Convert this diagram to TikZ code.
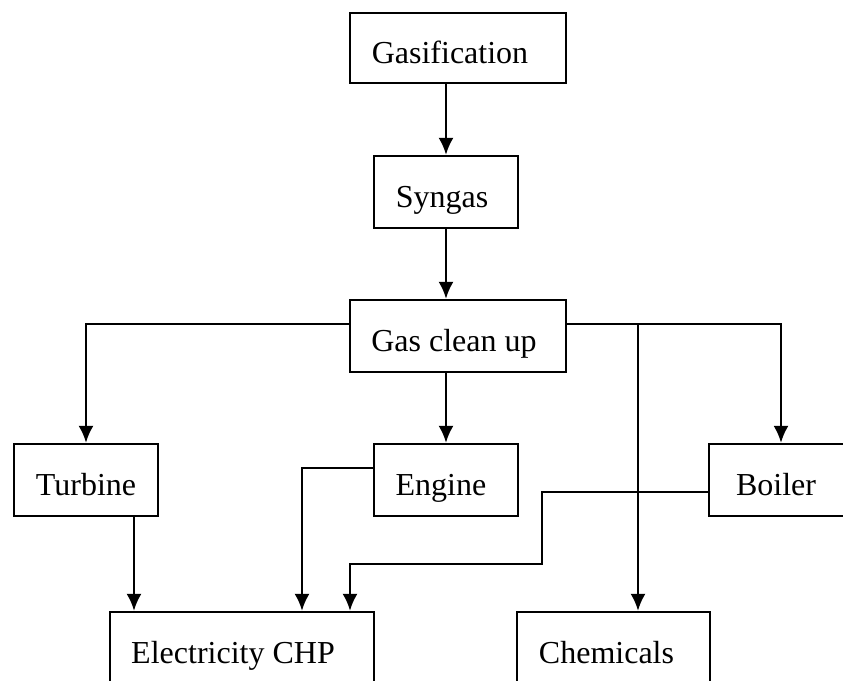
\documentclass[tikz,border=0pt]{standalone}
\usepackage{fontspec}
\setmainfont{Liberation Serif}
\usetikzlibrary{positioning,arrows.meta,calc}

\begin{document}
\begin{tikzpicture}[x=1pt,y=-1pt,
  box/.style={draw=black,line width=2.2pt,minimum height=72pt,inner sep=0pt,text height=36pt,text depth=6pt,font=\fontsize{32}{38}\selectfont},
  flow/.style={-{Latex[length=17pt,width=15pt]},line width=2.5pt}]
\useasboundingbox (0,0) rectangle (843,680);
\clip (0,0) rectangle (843,680);
\node[box,minimum width=216pt,minimum height=70pt] (gas) at (458,48){Gasification\hspace*{16pt}};
\node[box,minimum width=144pt] (syn) at (446,192){Syngas\hspace*{8pt}};
\node[box,minimum width=216pt] (clean) at (458,336){Gas clean up\hspace*{8pt}};
\node[box,minimum width=144pt] (tur) at (86,480){Turbine};
\node[box,minimum width=144pt] (eng) at (446,480){Engine\hspace*{10pt}};
\node[box,minimum width=144pt] (boi) at (781,480){Boiler\hspace*{10pt}};
\node[box,minimum width=264pt] (ele) at (242,648){Electricity CHP\hspace*{18pt}};
\node[box,minimum width=193pt] (che) at (613.5,648){Chemicals\hspace*{14pt}};
% bend points
\coordinate (cb) at (638,324);
\coordinate (tx) at (134,0);
\coordinate (ex) at (302,468);
\coordinate (bx) at (542,492);
\coordinate (by) at (350,564);
\draw[flow] (syn.north |- gas.south)--(syn.north);\draw[flow] (syn.south)--(syn.south |- clean.north);
\draw[flow] ([yshift=12pt]clean.west) -| (tur.north);\draw[flow] (eng.north |- clean.south)--(eng.north);
\draw[flow] ([yshift=12pt]clean.east) -| (boi.north);\draw[flow] (cb)--(cb |- che.north);
\draw[flow] (tx |- tur.south)--(tx |- ele.north);
\draw[flow] (ex -| eng.west)--(ex)--(ex |- ele.north);
\draw[flow] (bx -| boi.west)--(bx)--(bx |- by)--(by)--(by |- ele.north);
\end{tikzpicture}
\end{document}
